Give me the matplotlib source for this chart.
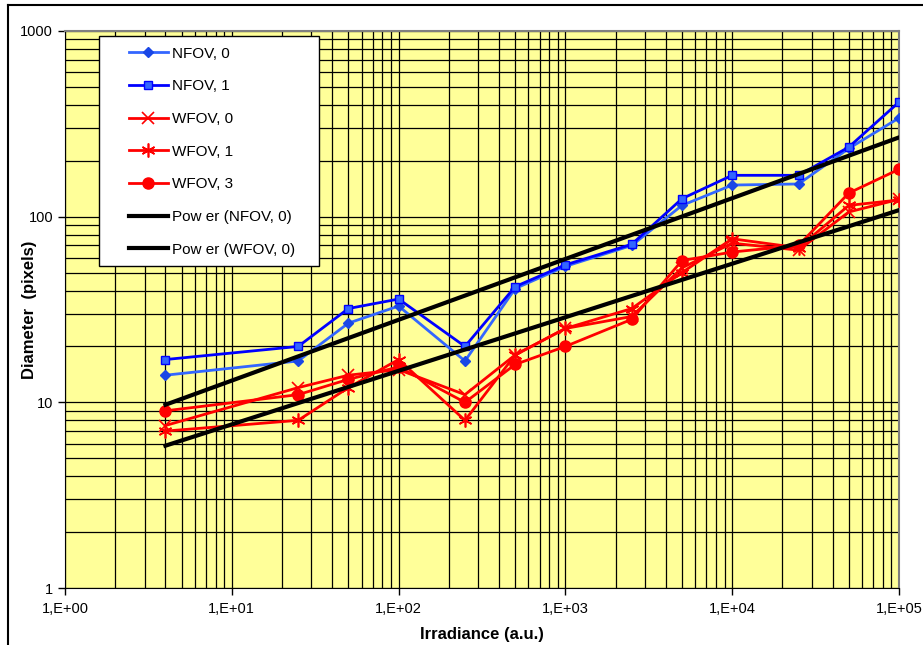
import numpy as np
import matplotlib
matplotlib.use("Agg")
import matplotlib.pyplot as plt
from matplotlib.lines import Line2D
from matplotlib.patches import Rectangle
from matplotlib.ticker import FuncFormatter, LogLocator, NullFormatter

plt.rcParams["font.family"] = ["Liberation Sans", "DejaVu Sans"]

# irradiancia (u.a.) y diámetros
irradiance = [4, 25, 50, 100, 250, 500, 1000, 2500, 5000, 10000, 25000, 50000, 100000]
nfov_0 = [14, 16.7, 26.7, 33, 16.7, 41, 54, 70, 115, 148, 150, 233, 340]
nfov_1 = [17, 20, 32, 36, 20, 42, 55, 71, 125, 167, 167, 237, 414]
wfov_0 = [7.5, 12, 14, 15, 11, 18, 25, 29, 53, 72, 66, 106, 124]
wfov_1 = [7, 8, 12, 17, 8, 18, 25, 32, 50, 76, 68, 115, 123]
wfov_3 = [9, 11, 13.3, 15.5, 10, 16, 20, 28, 58, 64.5, 70, 134, 180]

x = np.array(irradiance, dtype=float)


def ajuste_potencia(y):
    # tendencia tipo "Power" de Excel: recta en log-log
    b, a = np.polyfit(np.log10(x), np.log10(y), 1)
    return 10 ** a * x ** b


fig = plt.figure(figsize=(9.23, 6.45), dpi=100)
ax = fig.add_axes([65 / 923, 1 - 588 / 645, 834 / 923, 557 / 645])
ax.set_facecolor("#FFFF99")

ax.plot(x, nfov_0, color="#3366FF", lw=2, marker="D", ms=5,
        mfc="#1a47e6", mec="#1a47e6", label="NFOV, 0", zorder=3)
ax.plot(x, nfov_1, color="#0000FF", lw=2, marker="s", ms=6,
        mfc="#3366FF", mec="#0000FF", mew=1, label="NFOV, 1", zorder=3)
ax.plot(x, wfov_0, color="#FF0000", lw=2, marker="x", ms=9, mew=1.2,
        label="WFOV, 0", zorder=3)
ax.plot(x, wfov_1, color="#FF0000", lw=2, marker=(6, 2, 0), ms=10, mew=1.2,
        label="WFOV, 1", zorder=3)
ax.plot(x, wfov_3, color="#FF0000", lw=2, marker="o", ms=8,
        label="WFOV, 3", zorder=3)
ax.plot(x, ajuste_potencia(nfov_0), color="black", lw=3,
        label="Pow er (NFOV, 0)", zorder=4)
ax.plot(x, ajuste_potencia(wfov_0), color="black", lw=3,
        label="Pow er (WFOV, 0)", zorder=4)

ax.set_xscale("log")
ax.set_yscale("log")
ax.set_xlim(1, 1e5)
ax.set_ylim(1, 1000)

ax.xaxis.set_major_locator(LogLocator(base=10, numticks=10))
ax.yaxis.set_major_locator(LogLocator(base=10, numticks=10))
ax.xaxis.set_minor_locator(LogLocator(base=10, subs=np.arange(2, 10), numticks=20))
ax.yaxis.set_minor_locator(LogLocator(base=10, subs=np.arange(2, 10), numticks=20))
ax.xaxis.set_major_formatter(FuncFormatter(lambda v, p: f"1,E+{int(round(np.log10(v))):02d}"))
ax.yaxis.set_major_formatter(FuncFormatter(lambda v, p: f"{v:g}"))
ax.xaxis.set_minor_formatter(NullFormatter())
ax.yaxis.set_minor_formatter(NullFormatter())
ax.tick_params(which="major", length=5, width=1, labelsize=10.5, direction="out")
ax.tick_params(which="minor", length=0)
ax.tick_params(axis="x", pad=5)

ax.grid(which="both", color="black", lw=0.9)
ax.set_axisbelow(True)
for lado in ["top", "right"]:
    ax.spines[lado].set_color("#808080")
    ax.spines[lado].set_linewidth(1.5)

ax.set_xlabel("Irradiance (a.u.)", fontsize=12, weight="bold", labelpad=8)
ax.set_ylabel("Diameter  (pixels)", fontsize=12, weight="bold")
ax.yaxis.set_label_coords(-0.0336, 0.5)

# caja de la leyenda dibujada aparte para fijar su tamaño
ax.add_patch(Rectangle((0.0408, 0.578), 0.2638, 0.413, transform=ax.transAxes,
                       facecolor="white", edgecolor="black", lw=1, zorder=9))
leg = ax.legend(loc="upper left", bbox_to_anchor=(0.0767, 0.9716), fontsize=11,
                frameon=False, handlelength=2.55, labelspacing=1.22,
                borderpad=0, borderaxespad=0, handletextpad=0.25)
leg.set_zorder(10)

# marco exterior del área del gráfico
fig.add_artist(Line2D([8 / 923, 8 / 923], [0, 1 - 5 / 645], color="black", lw=1.5))
fig.add_artist(Line2D([8 / 923, 1], [1 - 5 / 645, 1 - 5 / 645], color="black", lw=1.5))

fig.savefig("out.png", dpi=100)
